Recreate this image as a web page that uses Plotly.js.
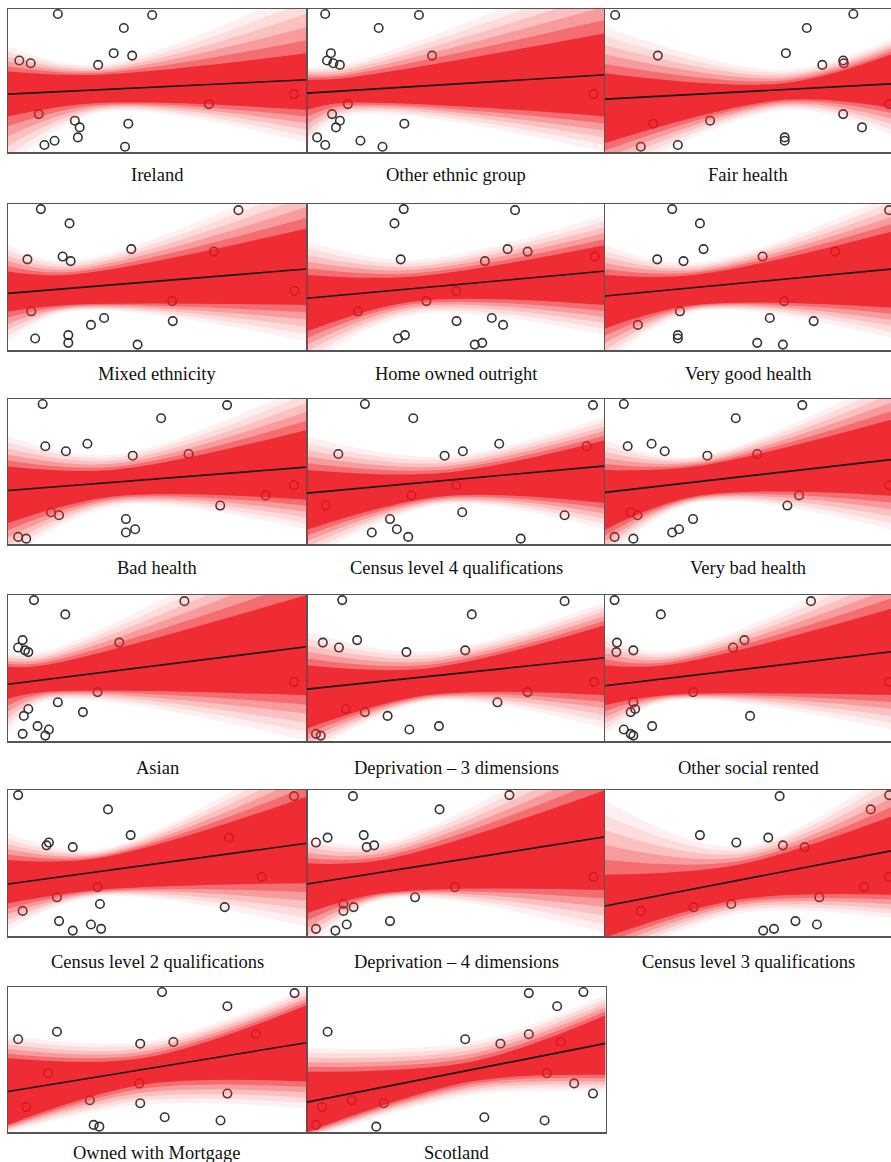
<!DOCTYPE html>
<html><head><meta charset="utf-8">
<script src="https://cdn.plot.ly/plotly-3.0.1.min.js"></script>
<style>html,body{margin:0;padding:0;background:#fff}#chart{width:891px;height:1162px}</style>
</head><body><div id="chart"></div>
<script>
const panelNames = ["Ireland","Other ethnic group","Fair health","Mixed ethnicity","Home owned outright","Very good health","Bad health","Census level 4 qualifications","Very bad health","Asian","Deprivation \u2013 3 dimensions","Other social rented","Census level 2 qualifications","Deprivation \u2013 4 dimensions","Census level 3 qualifications","Owned with Mortgage","Scotland"];

// outcome (shared by every panel), scaled 0..1
const outcome = [0.965,0.958,0.867,0.691,0.674,0.640,0.621,0.609,0.405,0.335,0.265,0.219,0.198,0.172,0.102,0.079,0.049,0.037];

// predictor values (scaled 0..1), one array per panel, same order as outcome
const xIreland      = [0.167,0.483,0.388,0.354,0.416,0.038,0.076,0.302,0.958,0.673,0.103,0.224,0.403,0.240,0.234,0.156,0.122,0.392];
const xOtherEthnic  = [0.061,0.375,0.240,0.080,0.419,0.067,0.088,0.110,0.960,0.137,0.084,0.110,0.326,0.097,0.034,0.179,0.061,0.253];
const xFairHealth   = [0.832,0.034,0.676,0.606,0.177,0.798,0.800,0.728,0.990,0.952,0.798,0.352,0.162,0.861,0.602,0.602,0.244,0.120];
const xMixed        = [0.110,0.772,0.206,0.413,0.690,0.183,0.065,0.210,0.960,0.550,0.078,0.322,0.552,0.278,0.202,0.091,0.202,0.434];
const xOwnedOutright= [0.324,0.697,0.293,0.672,0.739,0.964,0.314,0.596,0.500,0.400,0.171,0.619,0.501,0.657,0.328,0.305,0.587,0.562];
const xVeryGood     = [0.225,0.952,0.318,0.330,0.771,0.528,0.175,0.263,0.980,0.600,0.251,0.552,0.699,0.110,0.244,0.244,0.510,0.596];
const xBadHealth    = [0.116,0.734,0.513,0.266,0.125,0.194,0.605,0.418,0.958,0.863,0.711,0.144,0.171,0.395,0.426,0.395,0.034,0.061];
const xLevel4       = [0.194,0.958,0.356,0.644,0.937,0.522,0.105,0.461,0.500,0.350,0.063,0.520,0.863,0.278,0.301,0.217,0.339,0.716];
const xVeryBad      = [0.063,0.661,0.438,0.156,0.076,0.200,0.510,0.343,0.952,0.650,0.611,0.086,0.109,0.295,0.248,0.225,0.032,0.095];
const xAsian        = [0.087,0.591,0.192,0.049,0.373,0.034,0.057,0.068,0.958,0.300,0.167,0.068,0.251,0.053,0.099,0.137,0.049,0.125];
const xDep3         = [0.118,0.863,0.552,0.168,0.053,0.107,0.530,0.333,0.962,0.739,0.638,0.130,0.194,0.270,0.442,0.343,0.030,0.046];
const xSocialRented = [0.032,0.690,0.187,0.467,0.040,0.429,0.095,0.038,0.952,0.295,0.095,0.101,0.086,0.486,0.158,0.063,0.086,0.095];
const xLevel2       = [0.034,0.958,0.335,0.411,0.740,0.137,0.129,0.217,0.850,0.300,0.164,0.308,0.726,0.049,0.171,0.278,0.312,0.217];
const xDep4         = [0.678,0.154,0.444,0.190,0.069,0.030,0.225,0.200,0.960,0.495,0.362,0.122,0.156,0.122,0.278,0.133,0.030,0.095];
const xLevel3       = [0.952,0.585,0.890,0.318,0.547,0.440,0.596,0.669,0.952,0.869,0.718,0.423,0.297,0.120,0.638,0.710,0.566,0.530];
const xMortgage     = [0.516,0.960,0.735,0.164,0.830,0.034,0.554,0.443,0.135,0.440,0.735,0.274,0.443,0.061,0.525,0.712,0.287,0.306];
const xScotland     = [0.926,0.743,0.838,0.069,0.743,0.530,0.850,0.648,0.804,0.895,0.958,0.150,0.257,0.050,0.594,0.796,0.030,0.232];

const predictors = [xIreland,xOtherEthnic,xFairHealth,xMixed,xOwnedOutright,xVeryGood,xBadHealth,xLevel4,xVeryBad,xAsian,xDep3,xSocialRented,xLevel2,xDep4,xLevel3,xMortgage,xScotland];

// posterior mean regression line: value at x=0 and x=1
const meanLeft  = [0.405,0.412,0.370,0.388,0.354,0.370,0.369,0.351,0.356,0.389,0.355,0.378,0.356,0.356,0.205,0.279,0.206];
const meanRight = [0.505,0.540,0.481,0.555,0.541,0.562,0.530,0.539,0.592,0.645,0.570,0.622,0.635,0.680,0.600,0.616,0.611];

// posterior line fan: x of narrowest point, envelopes at [left, narrowest, right]
const waistX = [0.30,0.12,0.60,0.20,0.35,0.30,0.35,0.45,0.30,0.12,0.40,0.20,0.30,0.25,0.45,0.45,0.55];
const outerUpper = [[0.737,0.609,1.15],[0.598,0.609,1.3],[0.877,0.574,0.83],[0.719,0.605,1.2],[0.742,0.616,0.925],[0.719,0.594,1.1],[0.741,0.615,1.1],[0.741,0.603,0.878],[0.718,0.603,1.2],[0.611,0.611,1.5],[0.748,0.611,0.954],[0.725,0.611,1.3],[0.703,0.589,1.3],[0.68,0.635,1.4],[0.93,0.61,1.2],[0.668,0.622,0.99],[0.577,0.622,0.943]];
const outerLower = [[-0.1,0.272,0.063],[0.04,0.25,0.0],[-0.2,0.295,0.086],[0.057,0.263,0.06],[-0.1,0.24,0.10],[-0.1,0.263,0.06],[-0.1,0.259,0.099],[-0.1,0.271,0.099],[-0.1,0.282,0.076],[0.06,0.27,0.0],[-0.1,0.268,0.085],[0.04,0.268,0.06],[0.04,0.27,0.064],[-0.1,0.247,0.02],[-0.2,0.155,0.11],[0.0,0.188,0.165],[-0.05,0.256,0.279]];
const coreUpper = [[0.563,0.540,0.69],[0.505,0.516,0.83],[0.551,0.481,0.714],[0.537,0.514,0.833],[0.514,0.502,0.719],[0.514,0.514,0.833],[0.534,0.511,0.787],[0.511,0.489,0.718],[0.511,0.534,0.88],[0.508,0.519,1.0],[0.519,0.497,0.794],[0.519,0.519,0.93],[0.521,0.532,0.954],[0.498,0.52,1.0],[0.42,0.49,0.85],[0.508,0.508,0.874],[0.416,0.485,0.805]];
const coreLower = [[0.249,0.342,0.295],[0.295,0.342,0.249],[0.063,0.365,0.295],[0.263,0.308,0.308],[0.126,0.331,0.308],[0.148,0.308,0.285],[0.144,0.328,0.305],[0.099,0.328,0.282],[0.099,0.328,0.328],[0.29,0.336,0.313],[0.085,0.313,0.313],[0.245,0.313,0.313],[0.224,0.315,0.361],[0.155,0.292,0.315],[-0.01,0.25,0.28],[0.05,0.325,0.348],[0.0,0.348,0.394]];

const W = 891, H = 1162;
const colLeft = [8, 307, 605], colWidth = 298.5;
const rowTop = [9, 204, 399, 595, 790, 987];
const rowBottom = [152, 350, 544, 741, 936, 1132];
const labelGap = [23, 24, 24, 27, 26, 21];
// shading layers from the faint outer envelope (0) to the dense core (1)
const shadeLevels = [0, 0.2, 0.4, 0.6, 0.8, 1];
const shadeColors = ['rgba(244,70,70,0.08)', 'rgba(243,60,62,0.11)', 'rgba(242,48,52,0.16)', 'rgba(240,38,44,0.24)', 'rgba(238,28,36,0.36)', 'rgba(236,16,26,0.70)'];

const traces = [];
const layout = {width: W, height: H, margin: {l:0, r:0, t:0, b:0}, showlegend: false,
  paper_bgcolor: '#fff', plot_bgcolor: '#fff', annotations: []};

function mix(a, b, t) { return a.map((v, k) => v + (b[k] - v) * t); }

panelNames.forEach((name, i) => {
  const r = Math.floor(i / 3), c = i % 3, n = i + 1;
  const suf = n === 1 ? '' : String(n);
  const xa = 'x' + suf, ya = 'y' + suf;
  const left = colLeft[c], right = Math.min(left + colWidth, W);
  const xmax = (right - left) / colWidth;
  const common = {showline: true, linecolor: '#555', linewidth: 1.5, showticklabels: false, ticks: '',
    showgrid: false, zeroline: false, fixedrange: true};
  layout['xaxis' + suf] = Object.assign({domain: [left / W, right / W], range: [0, xmax], anchor: ya, mirror: true}, common);
  layout['yaxis' + suf] = Object.assign({domain: [1 - rowBottom[r] / H, 1 - rowTop[r] / H], range: [0, 1], anchor: xa, mirror: c < 2}, common);
  const xs = [0, waistX[i], 1];
  traces.push({type: 'scatter', mode: 'markers', x: predictors[i], y: outcome, xaxis: xa, yaxis: ya,
    marker: {symbol: 'circle-open', size: 8.5, color: '#333', line: {width: 1.6, color: '#333'}}, hoverinfo: 'skip'});
  shadeLevels.forEach((t, k) => {
    traces.push({type: 'scatter', mode: 'lines', x: xs, y: mix(outerLower[i], coreLower[i], t), xaxis: xa, yaxis: ya,
      line: {width: 0, shape: 'spline', smoothing: 1}, hoverinfo: 'skip'});
    traces.push({type: 'scatter', mode: 'lines', x: xs, y: mix(outerUpper[i], coreUpper[i], t), xaxis: xa, yaxis: ya, fill: 'tonexty',
      fillcolor: shadeColors[k], line: {width: 0, shape: 'spline', smoothing: 1}, hoverinfo: 'skip'});
  });
  traces.push({type: 'scatter', mode: 'lines', x: [0, 1], y: [meanLeft[i], meanRight[i]], xaxis: xa, yaxis: ya,
    line: {width: 1.6, color: '#151515'}, hoverinfo: 'skip'});
  layout.annotations.push({text: name, xref: xa + ' domain', x: 0.5, yref: 'paper',
    y: 1 - (rowBottom[r] + labelGap[r]) / H, xanchor: 'center', yanchor: 'middle', showarrow: false,
    font: {family: 'Liberation Serif, Times New Roman, serif', size: 18.5, color: '#111'}});
});

Plotly.newPlot('chart', traces, layout, {staticPlot: true, displayModeBar: false});
</script></body></html>
